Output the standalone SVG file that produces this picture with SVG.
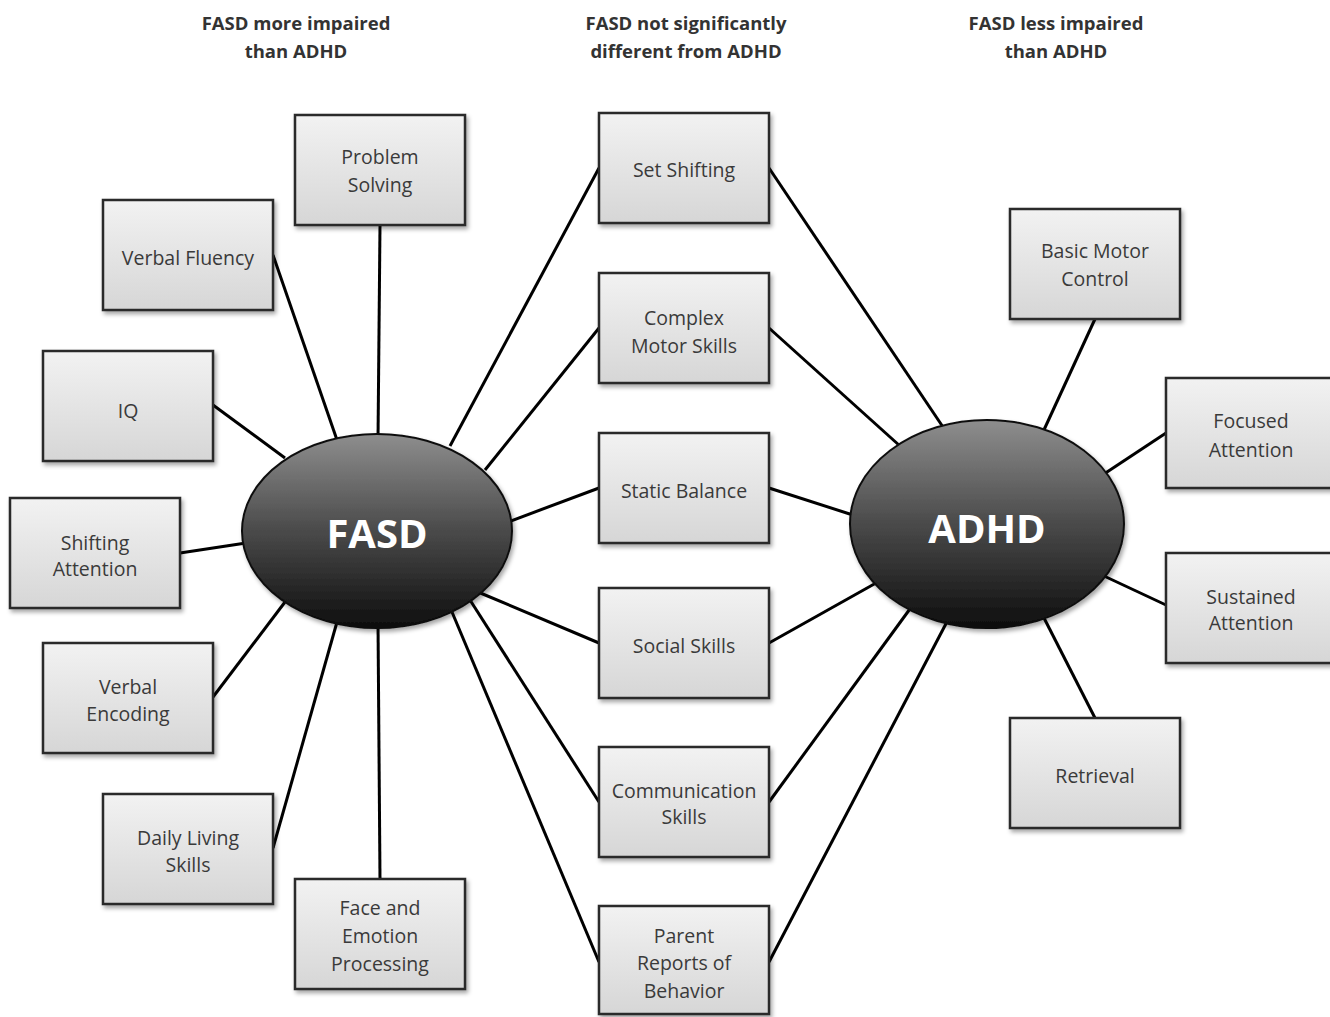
<svg xmlns="http://www.w3.org/2000/svg" width="1330" height="1017" viewBox="0 0 1330 1017">
<defs>
<linearGradient id="boxg" x1="0" y1="0" x2="0" y2="1">
<stop offset="0" stop-color="#f2f2f2"/>
<stop offset="1" stop-color="#d6d6d6"/>
</linearGradient>
<linearGradient id="ellg" x1="0" y1="0" x2="0" y2="1">
<stop offset="0" stop-color="#8e8e8e"/>
<stop offset="0.5" stop-color="#4a4a4a"/>
<stop offset="1" stop-color="#0e0e0e"/>
</linearGradient>
<filter id="sh" x="-10%" y="-10%" width="125%" height="130%">
<feDropShadow dx="2" dy="3" stdDeviation="2" flood-color="#000" flood-opacity="0.35"/>
</filter>
</defs>
<style>
.box{fill:url(#boxg);stroke:#2a2a2a;stroke-width:2.5;filter:url(#sh)}
.t{font-family:"Open Sans","Liberation Sans",sans-serif;font-size:19.5px;fill:#3a3a3a;text-anchor:middle}
.h{font-family:"Open Sans","Liberation Sans",sans-serif;font-size:18.5px;font-weight:bold;fill:#333;text-anchor:middle}
.ell{fill:url(#ellg);stroke:#111;stroke-width:2;filter:url(#sh)}
.et{font-family:"Open Sans","Liberation Sans",sans-serif;font-size:40px;font-weight:bold;fill:#fff;text-anchor:middle}
.c line{stroke:#000;stroke-width:3}
</style>
<rect width="1330" height="1017" fill="#fff"/>
<g id="headers">
<text class="h" x="296" y="30">FASD more impaired</text>
<text class="h" x="296" y="58">than ADHD</text>
<text class="h" x="686" y="30">FASD not significantly</text>
<text class="h" x="686" y="58">different from ADHD</text>
<text class="h" x="1056" y="30">FASD less impaired</text>
<text class="h" x="1056" y="58">than ADHD</text>
</g>
<g id="connectors" class="c">
<line x1="380" y1="225" x2="378" y2="440"/>
<line x1="273" y1="255" x2="337" y2="440"/>
<line x1="213" y1="405" x2="285" y2="458"/>
<line x1="180" y1="553" x2="246" y2="543"/>
<line x1="213" y1="697" x2="285" y2="602"/>
<line x1="273" y1="848" x2="337" y2="622"/>
<line x1="380" y1="879" x2="378" y2="622"/>
<line x1="599" y1="168" x2="450" y2="446"/>
<line x1="599" y1="328" x2="485" y2="470"/>
<line x1="599" y1="488" x2="508" y2="522"/>
<line x1="599" y1="643" x2="478" y2="592"/>
<line x1="599" y1="802" x2="470" y2="600"/>
<line x1="599" y1="962" x2="452" y2="612"/>
<line x1="769" y1="168" x2="945" y2="430"/>
<line x1="769" y1="328" x2="900" y2="446"/>
<line x1="769" y1="488" x2="856" y2="516"/>
<line x1="769" y1="643" x2="876" y2="583"/>
<line x1="769" y1="802" x2="915" y2="602"/>
<line x1="769" y1="962" x2="950" y2="616"/>
<line x1="1095" y1="319" x2="1043" y2="432"/>
<line x1="1166" y1="433" x2="1104" y2="474"/>
<line x1="1166" y1="605" x2="1104" y2="576"/>
<line x1="1095" y1="718" x2="1043" y2="616"/>
</g>
<g id="FASD"><ellipse class="ell" cx="377" cy="531" rx="135" ry="97"/><text class="et" x="377" y="548">FASD</text></g>
<g id="ADHD"><ellipse class="ell" cx="987" cy="524" rx="137" ry="104"/><text class="et" x="987" y="543">ADHD</text></g>
<g id="problem-solving"><rect class="box" x="295" y="115" width="170" height="110"/><text class="t" x="380" y="164">Problem</text><text class="t" x="380" y="192">Solving</text></g>
<g id="verbal-fluency"><rect class="box" x="103" y="200" width="170" height="110"/><text class="t" x="188" y="265">Verbal Fluency</text></g>
<g id="iq"><rect class="box" x="43" y="351" width="170" height="110"/><text class="t" x="128" y="418">IQ</text></g>
<g id="shifting-attention"><rect class="box" x="10" y="498" width="170" height="110"/><text class="t" x="95" y="550">Shifting</text><text class="t" x="95" y="576">Attention</text></g>
<g id="verbal-encoding"><rect class="box" x="43" y="643" width="170" height="110"/><text class="t" x="128" y="694">Verbal</text><text class="t" x="128" y="721">Encoding</text></g>
<g id="daily-living"><rect class="box" x="103" y="794" width="170" height="110"/><text class="t" x="188" y="845">Daily Living</text><text class="t" x="188" y="872">Skills</text></g>
<g id="face-emotion"><rect class="box" x="295" y="879" width="170" height="110"/><text class="t" x="380" y="915">Face and</text><text class="t" x="380" y="943">Emotion</text><text class="t" x="380" y="971">Processing</text></g>
<g id="set-shifting"><rect class="box" x="599" y="113" width="170" height="110"/><text class="t" x="684" y="177">Set Shifting</text></g>
<g id="complex-motor"><rect class="box" x="599" y="273" width="170" height="110"/><text class="t" x="684" y="325">Complex</text><text class="t" x="684" y="353">Motor Skills</text></g>
<g id="static-balance"><rect class="box" x="599" y="433" width="170" height="110"/><text class="t" x="684" y="498">Static Balance</text></g>
<g id="social-skills"><rect class="box" x="599" y="588" width="170" height="110"/><text class="t" x="684" y="653">Social Skills</text></g>
<g id="communication"><rect class="box" x="599" y="747" width="170" height="110"/><text class="t" x="684" y="798">Communication</text><text class="t" x="684" y="824">Skills</text></g>
<g id="parent-reports"><rect class="box" x="599" y="906" width="170" height="108"/><text class="t" x="684" y="943">Parent</text><text class="t" x="684" y="970">Reports of</text><text class="t" x="684" y="998">Behavior</text></g>
<g id="basic-motor"><rect class="box" x="1010" y="209" width="170" height="110"/><text class="t" x="1095" y="258">Basic Motor</text><text class="t" x="1095" y="286">Control</text></g>
<g id="focused-attention"><rect class="box" x="1166" y="378" width="166" height="110"/><text class="t" x="1251" y="428">Focused</text><text class="t" x="1251" y="457">Attention</text></g>
<g id="sustained-attention"><rect class="box" x="1166" y="553" width="166" height="110"/><text class="t" x="1251" y="604">Sustained</text><text class="t" x="1251" y="630">Attention</text></g>
<g id="retrieval"><rect class="box" x="1010" y="718" width="170" height="110"/><text class="t" x="1095" y="783">Retrieval</text></g>
</svg>
